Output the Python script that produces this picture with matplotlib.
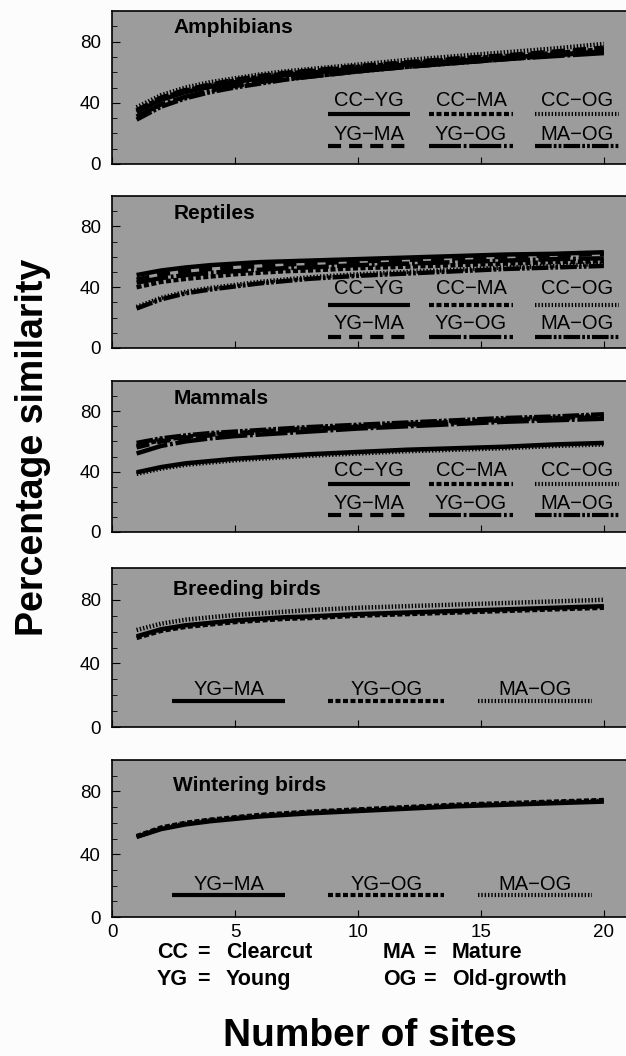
import numpy as np
import matplotlib.pyplot as plt

plt.rcParams['font.family'] = ['Liberation Sans', 'DejaVu Sans']
plt.rcParams['lines.scale_dashes'] = False

# number of sites at which the curves were read
sites = [1, 2, 3, 4, 5, 6, 7, 8, 10, 12, 14, 16, 18, 20]

pairs6 = ['CC\u2212YG', 'CC\u2212MA', 'CC\u2212OG', 'YG\u2212MA', 'YG\u2212OG', 'MA\u2212OG']
pairs3 = ['YG\u2212MA', 'YG\u2212OG', 'MA\u2212OG']

# amphibians
amph_cc_yg = [34, 42, 47, 50.5, 53.5, 56, 58, 59.5, 62.5, 65, 67.5, 69.5, 71.5, 73.5]
amph_cc_ma = [35, 43, 48, 51.5, 54.5, 57, 59, 60.5, 63.5, 66, 68.5, 70.5, 72.5, 75]
amph_cc_og = [37, 45, 50, 53.5, 56, 58.5, 60.5, 62, 65, 68, 70.5, 73, 75.5, 78.5]
amph_yg_ma = [35, 43.5, 48.5, 52, 55, 57.5, 59.5, 61, 64, 66.5, 69, 71, 73.5, 76]
amph_yg_og = [31, 39, 44, 48, 51, 53.5, 55.5, 57, 60.5, 63.5, 66, 68.5, 70.5, 72.5]
amph_ma_og = [29, 37.5, 43, 47, 50, 52.5, 55, 57, 60.5, 63.5, 66, 68.5, 71, 73.5]

# reptiles
rept_cc_yg = [48, 51, 53, 54.5, 55.5, 56.5, 57, 57.5, 58.5, 59.5, 60.5, 61.5, 62, 63]
rept_cc_ma = [40, 43.5, 45.5, 47, 48.5, 49.5, 50.5, 51, 52.5, 53.5, 54.5, 55.5, 56.5, 57]
rept_cc_og = [27, 33, 37, 39.5, 41.5, 43.5, 45, 46.5, 48.5, 50, 51.5, 53, 54, 55.5]
rept_yg_ma = [45, 48.5, 50.5, 52, 53, 54, 55, 55.5, 57, 58, 59, 60, 61, 62]
rept_yg_og = [43, 46, 48, 49.5, 50.5, 51.5, 52.5, 53, 54.5, 55.5, 56.5, 57.5, 58.5, 59]
rept_ma_og = [26, 32, 36, 38.5, 40.5, 42.5, 44, 45.5, 47.5, 49, 50.5, 52, 53, 54]

# mammals
mamm_cc_yg = [39.5, 43, 45.5, 47, 48.5, 49.5, 50.5, 51.5, 53, 54.5, 55.5, 56.5, 58, 59]
mamm_cc_ma = [57, 61, 63, 64.5, 65.5, 66.5, 67.5, 68.5, 70, 71.5, 73, 74.5, 75.5, 77]
mamm_cc_og = [38.5, 42, 44.5, 46, 47.5, 48.5, 49.5, 50.5, 52, 53.5, 54.5, 55.5, 57, 58]
mamm_yg_ma = [56, 60, 62.5, 64, 65, 66, 67, 68, 69.5, 71, 72.5, 74, 75, 76]
mamm_yg_og = [52, 57, 60, 62, 63.5, 64.5, 65.5, 66.5, 68.5, 70, 71.5, 73, 74, 75]
mamm_ma_og = [59, 62, 64, 65.5, 66.5, 67.5, 68.5, 69.5, 71, 72.5, 74, 75.5, 76.5, 78]

# breeding birds
breed_yg_ma = [57, 61.5, 64, 65.5, 67, 68, 69, 69.5, 71, 72, 73, 74, 75, 76]
breed_yg_og = [56, 60.5, 63, 64.5, 66, 67, 68, 68.5, 70, 71, 72, 73, 74, 75]
breed_ma_og = [61, 65, 67.5, 69, 70.5, 71.5, 72.5, 73.5, 75, 76, 77, 78, 79, 80]

# wintering birds
wint_yg_ma = [51, 56, 59, 61, 62.5, 64, 65, 66, 67.5, 69, 70.5, 71.5, 72.5, 73.5]
wint_yg_og = [51.5, 57, 60, 62, 63.5, 65, 66, 67, 68.5, 70, 71.5, 72.5, 73.5, 74.5]
wint_ma_og = [51, 56.5, 59.5, 61.5, 63, 64.5, 65.5, 66.5, 68, 69.5, 71, 72, 73, 74]

# line styles (points)
solid = '-'
dashed = (0, (3.6, 1.8))
dotted = (0, (1.0, 1.4))
longdash = (0, (9.4, 5.8))
dashdot = (0, (23, 2, 2, 2))
dashdotdot = (0, (12, 1.5, 2, 1.5, 2, 1.5))
styles6 = [solid, dashed, dotted, longdash, dashdot, dashdotdot]
styles3 = [solid, dashed, dotted]

panels = [
    ('Amphibians', [amph_cc_yg, amph_cc_ma, amph_cc_og, amph_yg_ma, amph_yg_og, amph_ma_og], 85.5),
    ('Reptiles', [rept_cc_yg, rept_cc_ma, rept_cc_og, rept_yg_ma, rept_yg_og, rept_ma_og], 85),
    ('Mammals', [mamm_cc_yg, mamm_cc_ma, mamm_cc_og, mamm_yg_ma, mamm_yg_og, mamm_ma_og], 85),
    ('Breeding birds', [breed_yg_ma, breed_yg_og, breed_ma_og], 83),
    ('Wintering birds', [wint_yg_ma, wint_yg_og, wint_ma_og], 80),
]

# legend rows: (text y, line y) for row 1 and row 2
leg_rows6 = [((41.5, 33), (19.5, 12)), ((39, 28), (16, 7)), ((41, 32), (19, 11))]
leg_rows3 = [(23.8, 16.5), (20.6, 13.7)]
cols6 = [(8.8, 12.1), (12.9, 16.3), (17.2, 20.6)]
cols3 = [(2.45, 7.05), (8.8, 13.5), (14.9, 19.5)]

W, H = 626, 1056
fig = plt.figure(figsize=(W / 100, H / 100), dpi=100, facecolor='#fcfcfc')
edges = [(11, 164), (196, 348), (381, 532), (568, 727), (760, 917)]
left = 112 / W

for i, (name, series, ty) in enumerate(panels):
    top, bot = edges[i]
    ax = fig.add_axes([left, 1 - bot / H, 1 - left, (bot - top) / H])
    ax.set_facecolor('#9c9c9c')
    ax.set_xlim(0, 20.9)
    ax.set_ylim(0, 100)
    ax.spines['right'].set_visible(False)
    for s in ['left', 'top', 'bottom']:
        ax.spines[s].set_linewidth(1.2)
    ax.set_yticks([0, 40, 80])
    ax.set_yticks(np.arange(10, 100, 10), minor=True)
    ax.set_xticks([0, 5, 10, 15, 20])
    ax.tick_params(axis='both', which='both', direction='in', labelsize=13.5)
    ax.tick_params(axis='y', which='major', length=6, pad=8)
    ax.tick_params(axis='y', which='minor', length=3.5)
    ax.tick_params(axis='x', which='major', length=5, pad=5)
    if i < 4:
        ax.tick_params(axis='x', labelbottom=False)

    ax.text(2.5, ty, name, fontsize=15, fontweight='bold', va='baseline')

    if len(series) == 6:
        for ys, ls in zip(series, styles6):
            ax.plot(sites, ys, color='black', lw=3.2, linestyle=ls, solid_capstyle='butt')
        rows = leg_rows6[i]
        for k in range(6):
            r, c = divmod(k, 3)
            x0, x1 = cols6[c]
            tyl, ly = rows[r]
            ax.plot([x0, x1], [ly, ly], color='black', lw=3, linestyle=styles6[k],
                    solid_capstyle='butt')
            ax.text((x0 + x1) / 2, tyl, pairs6[k], fontsize=14.5, ha='center', va='center')
    else:
        for ys, ls in zip(series, styles3):
            ax.plot(sites, ys, color='black', lw=3.2, linestyle=ls, solid_capstyle='butt')
        tyl, ly = leg_rows3[i - 3]
        for k in range(3):
            x0, x1 = cols3[k]
            ax.plot([x0, x1], [ly, ly], color='black', lw=3, linestyle=styles3[k],
                    solid_capstyle='butt')
            ax.text((x0 + x1) / 2, tyl, pairs3[k], fontsize=14.5, ha='center', va='center')

# abbreviations key
key = [('CC', 'Clearcut', 157, 958), ('YG', 'Young', 157, 985),
       ('MA', 'Mature', 383, 958), ('OG', 'Old-growth', 383, 985)]
for ab, full, x, y in key:
    fig.text(x / W, 1 - y / H, ab, fontsize=15.5, fontweight='bold', va='baseline')
    fig.text((x + 40) / W, 1 - y / H, '=', fontsize=15.5, fontweight='bold', va='baseline')
    fig.text((x + 69) / W, 1 - y / H, full, fontsize=15.5, fontweight='bold', va='baseline')

fig.text(370 / W, 1 - 1046 / H, 'Number of sites', fontsize=28, fontweight='bold',
         ha='center', va='baseline')
fig.text(33 / W, 1 - 447 / H, 'Percentage similarity', fontsize=27, fontweight='bold',
         rotation=90, ha='center', va='center')

fig.savefig('out.png', dpi=100, facecolor=fig.get_facecolor())
